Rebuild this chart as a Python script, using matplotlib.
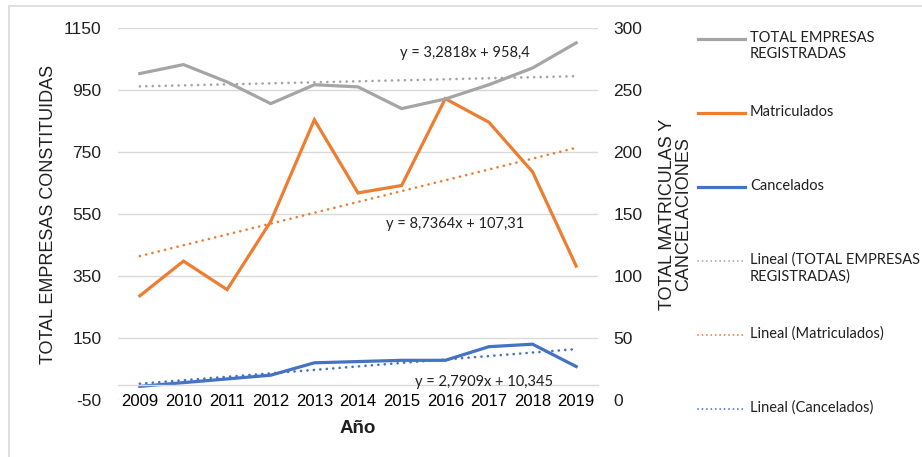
import matplotlib
matplotlib.use("Agg")
import matplotlib.pyplot as plt
from matplotlib.lines import Line2D
from matplotlib.patches import Rectangle
import numpy as np

plt.rcParams.update({
    "font.family": ["Liberation Sans", "DejaVu Sans"],
    "font.size": 12,
    "axes.unicode_minus": False,
})

years = np.arange(2009, 2020)
total_empresas = [1003, 1032, 976, 906, 967, 960, 890, 921, 967, 1021, 1102]
matriculados = [84, 112, 89, 144, 226, 167, 173, 243, 224, 184, 108]
cancelados = [11, 14, 17, 20, 30, 31, 32, 32, 43, 45, 27]

# trendline coefficients as printed on the chart (x = 1..11)
trend_total = (3.2818, 958.4)
trend_matric = (8.7364, 107.31)
trend_cancel = (2.7909, 10.345)
eq_total = "y = 3,2818x + 958,4"
eq_matric = "y = 8,7364x + 107,31"
eq_cancel = "y = 2,7909x + 10,345"

left_ticks = np.arange(-50, 1151, 200)
right_ticks = np.arange(0, 301, 50)

GREY = "#a5a5a5"
ORANGE = "#ed7d31"
BLUE = "#4472c4"
EQFONT = ["Lato", "DejaVu Sans"]

W, H = 922, 457
fig = plt.figure(figsize=(W / 100, H / 100), dpi=100)
fig.add_artist(Rectangle((9 / W, -0.01), 1.0, 1 - 6 / H + 0.01, transform=fig.transFigure,
                         fill=False, edgecolor="#d9d9d9", linewidth=1.2))

ax = fig.add_axes([118 / W, (H - 400) / H, 480 / W, 372 / H])
ax2 = ax.twinx()
ax.set_zorder(ax2.get_zorder() + 1)
ax.patch.set_visible(False)

idx = np.arange(1, len(years) + 1)
dot = (0, (0.05, 2.4))
dot_kw = dict(lw=1.9, ls=dot, dash_capstyle="round")

ax.plot(years, total_empresas, color=GREY, lw=2.3, solid_joinstyle="miter")
ax.plot(years, trend_total[0] * idx + trend_total[1], color=GREY, **dot_kw)
ax2.plot(years, matriculados, color=ORANGE, lw=2.3, solid_joinstyle="miter")
ax2.plot(years, trend_matric[0] * idx + trend_matric[1], color=ORANGE, **dot_kw)
ax2.plot(years, cancelados, color=BLUE, lw=2.3, solid_joinstyle="miter")
ax2.plot(years, trend_cancel[0] * idx + trend_cancel[1], color=BLUE, **dot_kw)

ax.set_xlim(2008.5, 2019.5)
ax.set_ylim(-50, 1150)
ax2.set_ylim(0, 300)
ax.set_yticks(left_ticks)
ax2.set_yticks(right_ticks)
ax.set_xticks(years)
ax.set_xticklabels([str(y) for y in years], fontsize=10.3, color="#404040")

for a in (ax, ax2):
    for s in a.spines.values():
        s.set_visible(False)
ax.spines["bottom"].set_visible(True)
ax.spines["bottom"].set_position(("data", 0))
ax.spines["bottom"].set_color("#d9d9d9")
ax.spines["bottom"].set_linewidth(1.0)

ax2.grid(axis="y", color="#d9d9d9", lw=1.0)
ax2.set_axisbelow(True)
ax.tick_params(axis="y", length=0, pad=12, labelsize=12.5, labelcolor="#202020")
ax.tick_params(axis="x", length=0, pad=7)
ax2.tick_params(axis="y", length=0, pad=11, labelsize=12.5, labelcolor="#202020")

ax.set_ylabel("TOTAL EMPRESAS CONSTITUIDAS", fontsize=13, color="#202020", labelpad=5)
ax2.set_ylabel("TOTAL MATRICULAS Y\nCANCELACIONES", fontsize=13, color="#202020",
               linespacing=0.95, labelpad=12)
ax.set_xlabel("Año", fontsize=13.5, fontweight="bold", color="#202020", labelpad=8)

ax.text(2016.44, 1070, eq_total, ha="center", va="center", fontsize=10.5,
        family=EQFONT, color="#202020")
ax.text(2016.23, 518, eq_matric, ha="center", va="center", fontsize=10.5,
        family=EQFONT, color="#202020")
ax.text(2016.9, 7.5, eq_cancel, ha="center", va="center", fontsize=10.5,
        family=EQFONT, color="#202020")

# legend drawn to the right, Excel style (handle aligned with first text line)
entries = [
    ("TOTAL EMPRESAS\nREGISTRADAS", GREY, "-"),
    ("Matriculados", ORANGE, "-"),
    ("Cancelados", BLUE, "-"),
    ("Lineal (TOTAL EMPRESAS\nREGISTRADAS)", GREY, dot),
    ("Lineal (Matriculados)", ORANGE, dot),
    ("Lineal (Cancelados)", BLUE, dot),
]
y0, step = 38.5, 74.0
for i, (label, color, ls) in enumerate(entries):
    yp = 1 - (y0 + i * step) / H
    solid = ls == "-"
    fig.add_artist(Line2D([698 / W, 745 / W], [yp, yp], transform=fig.transFigure,
                          color=color, lw=2.3 if solid else 1.3, ls=ls,
                          dash_capstyle="round"))
    fig.text(750 / W, yp + 8 / H, label, ha="left", va="top", fontsize=10.5,
             family=EQFONT, color="#202020", linespacing=1.25)

fig.savefig("out.png", dpi=100)
